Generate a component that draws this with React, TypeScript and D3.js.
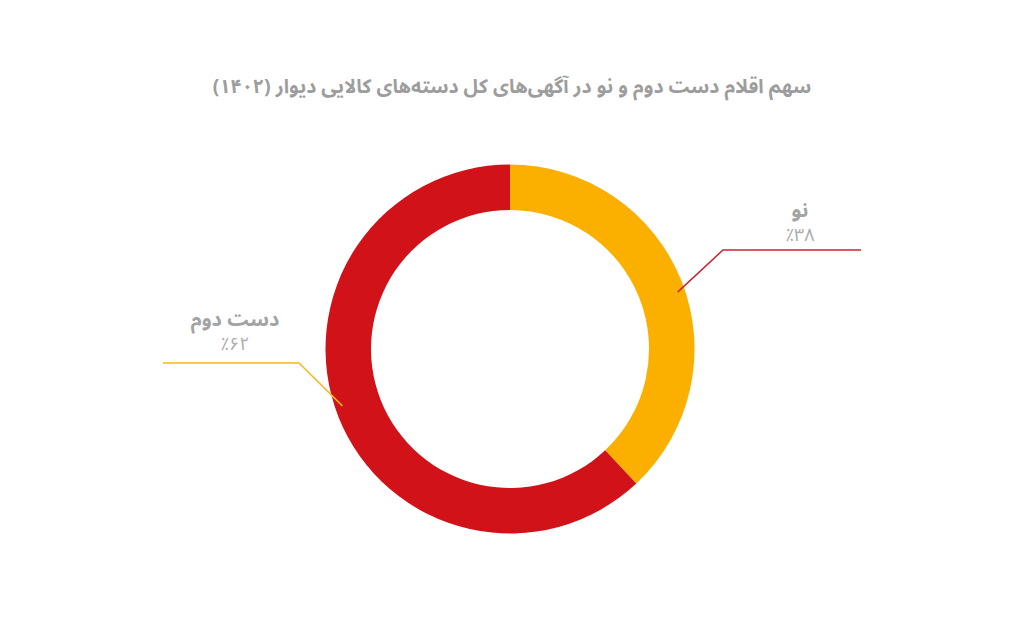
import { useEffect, useRef } from "react"
import * as d3 from "d3"

const categories = ["نو", "دست دوم"]
const shares = [38, 62]
const percentLabels = ["٪۳۸", "٪۶۲"]
const sliceColors = ["#FBB000", "#D21219"]
const leaderColors = ["#C8252E", "#F5B81C"]

const title = "سهم اقلام دست دوم و نو در آگهی‌های کل دسته‌های کالایی دیوار (۱۴۰۲)"

const W = 1024
const H = 636
const FONT = "'Noto Sans Arabic', 'DejaVu Sans', sans-serif"

export default function App() {
  const svgRef = useRef<SVGSVGElement>(null)

  useEffect(() => {
    if (!svgRef.current) return
    const svg = d3.select(svgRef.current)
    svg.selectAll("*").remove()

    svg.append("rect").attr("width", W).attr("height", H).attr("fill", "#fff")

    svg.append("text")
      .attr("x", 512)
      .attr("y", 86)
      .attr("text-anchor", "middle")
      .attr("dominant-baseline", "central")
      .attr("direction", "rtl")
      .attr("font-family", FONT)
      .attr("font-size", 19.5)
      .attr("font-weight", 700)
      .attr("fill", "#9d9d9d")
      .text(title)

    const cx = 510
    const cy = 349
    const outer = 184.5
    const inner = 139

    const g = svg.append("g").attr("transform", `translate(${cx},${cy})`)

    const pie = d3.pie<number>().sort(null).value(d => d)
    const arcs = pie(shares)
    const arc = d3.arc<d3.PieArcDatum<number>>().innerRadius(inner).outerRadius(outer)

    g.selectAll("path.slice")
      .data(arcs)
      .join("path")
      .attr("class", "slice")
      .attr("d", arc)
      .attr("fill", (_, i) => sliceColors[i])

    // leader lines: from the ring to an elbow, then horizontal
    const elbows = [
      { ex: 723 - cx, ey: 250 - cy, endX: 861 - cx },
      { ex: 299 - cx, ey: 363 - cy, endX: 163 - cx },
    ]
    const labelPos = [
      { x: 800 - cx, y: 210 - cy },
      { x: 235 - cx, y: 319 - cy },
    ]

    arcs.forEach((a, i) => {
      const mid = (a.startAngle + a.endAngle) / 2 + 0.05
      const r = 177
      const sx = Math.sin(mid) * r
      const sy = -Math.cos(mid) * r
      const e = elbows[i]
      g.append("polyline")
        .attr("points", `${sx},${sy} ${e.ex},${e.ey} ${e.endX},${e.ey}`)
        .attr("fill", "none")
        .attr("stroke", leaderColors[i])
        .attr("stroke-width", 1.5)

      const p = labelPos[i]
      const label = g.append("text")
        .attr("text-anchor", "middle")
        .attr("font-family", FONT)
        .attr("fill", "#a3a3a3")

      label.append("tspan")
        .attr("x", p.x)
        .attr("y", p.y + 7)
        .attr("direction", "rtl")
        .attr("font-size", 20)
        .attr("font-weight", 700)
        .text(categories[i])

      label.append("tspan")
        .attr("x", p.x)
        .attr("y", p.y + 31)
        .attr("font-size", 18)
        .attr("fill", "#ababab")
        .text(percentLabels[i])
    })
  }, [])

  return (
    <svg
      ref={svgRef}
      width={W}
      height={H}
      style={{ position: "absolute", left: 0, top: 0 }}
    />
  )
}
